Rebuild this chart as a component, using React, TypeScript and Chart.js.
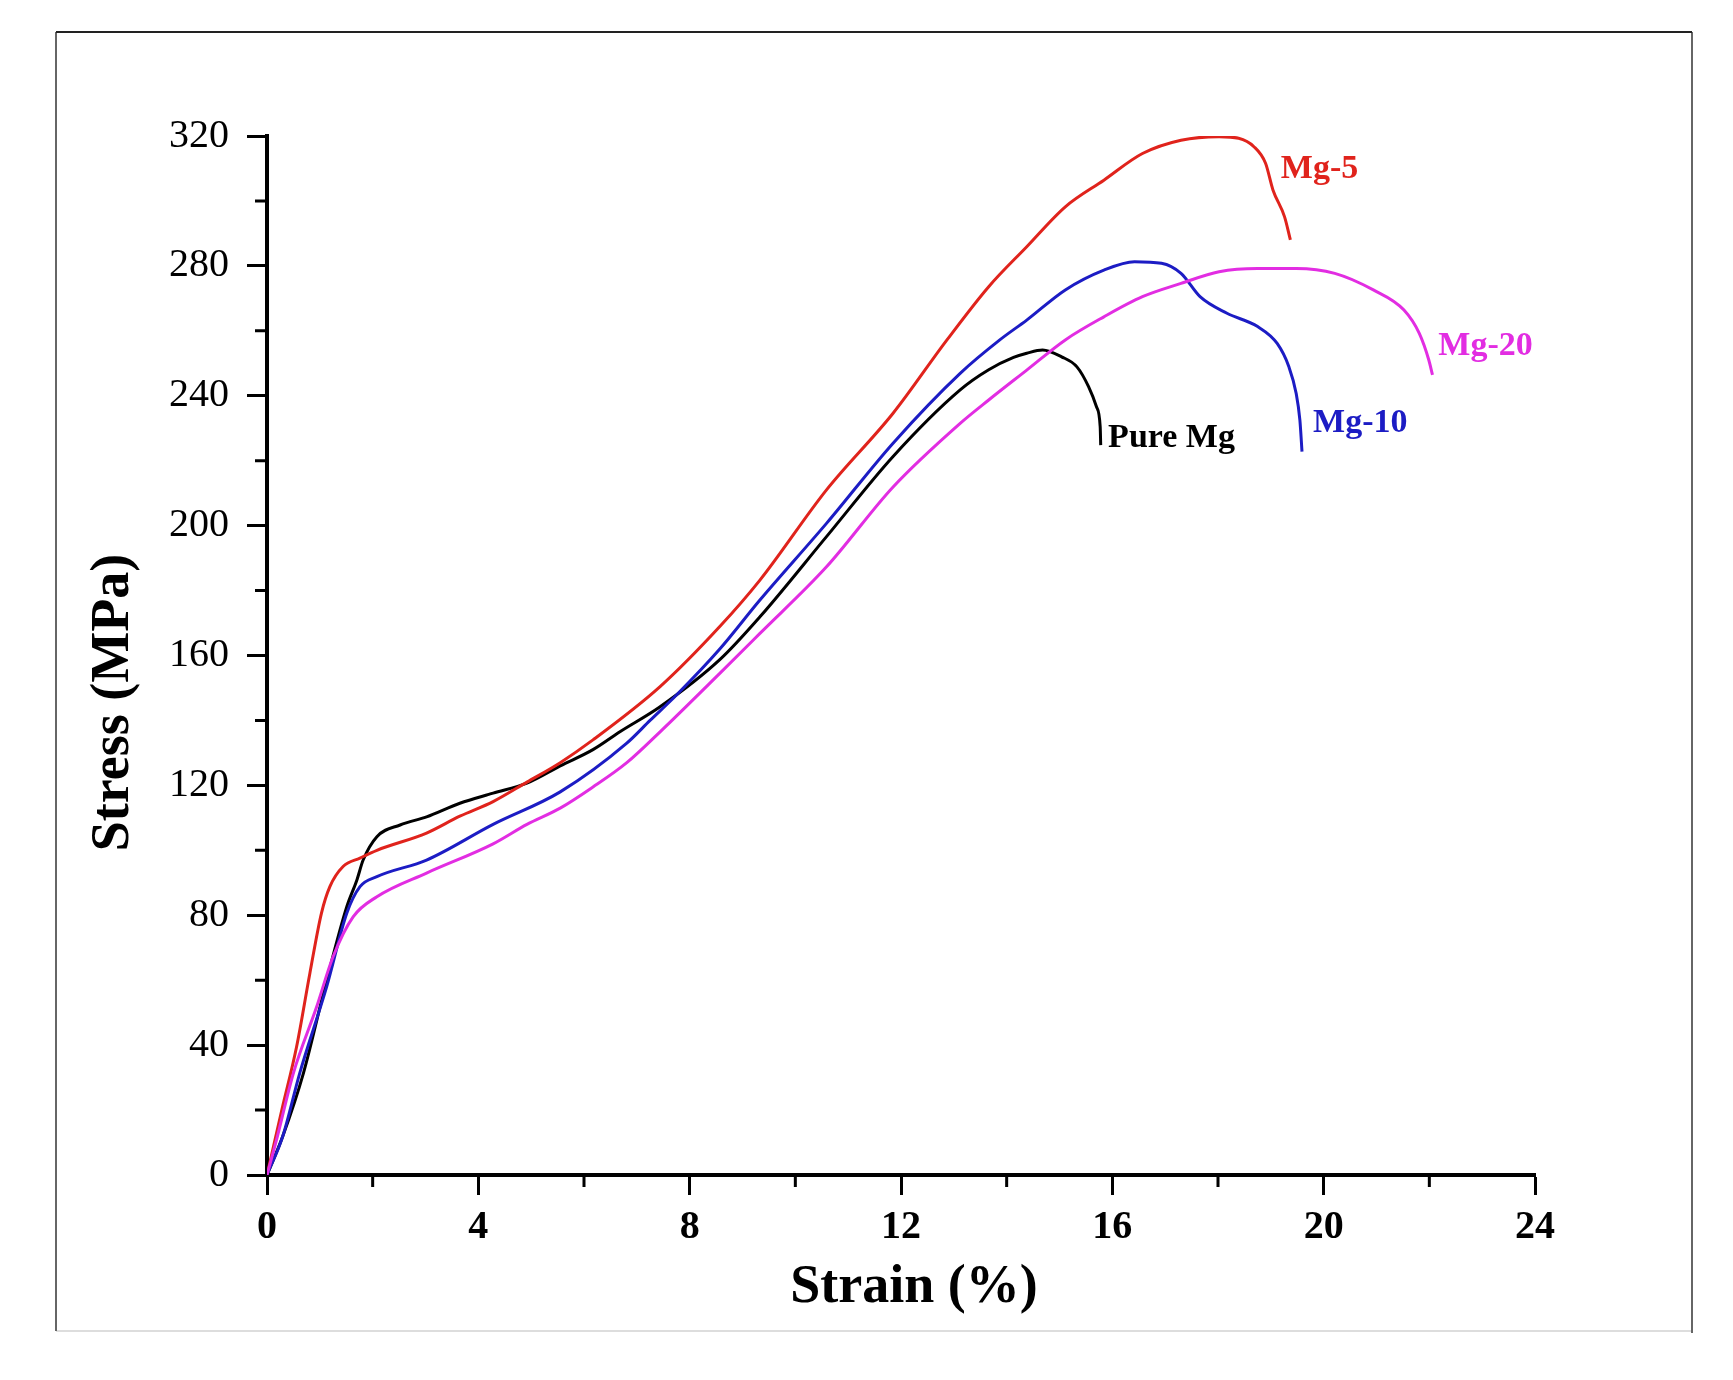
import { useEffect, useRef } from "react"
import { Chart, registerables } from "chart.js"

Chart.register(...registerables)

// Stress-strain curves, strain in %, stress in MPa
const pureMgStrain = [0, 0.3, 0.69, 1.13, 1.51, 1.7, 1.82, 2.08, 2.52, 3.02, 3.65, 4.28, 4.92, 5.55, 6.17, 6.68, 7.44, 8.57, 9.33, 10.59, 11.85, 13.12, 13.66, 14.13, 14.38, 14.68, 15.04, 15.33, 15.55, 15.7, 15.77, 15.78]
const pureMgStress = [0, 12, 31.4, 60, 82.6, 90.8, 97, 104.2, 107.8, 110.3, 114.5, 117.6, 120.7, 126, 131, 136.5, 144.2, 158.7, 171.9, 196.6, 221.3, 241.8, 248, 251.8, 253.1, 254.1, 252, 248.9, 242.8, 236.6, 230.5, 224.8]

const mg5Strain = [0, 0.28, 0.56, 0.81, 1.03, 1.19, 1.44, 1.76, 2.08, 3.02, 3.65, 4.28, 4.92, 5.55, 6.17, 7.44, 8.57, 9.33, 10.59, 11.85, 12.87, 13.66, 14.38, 15.11, 15.84, 16.57, 17.3, 18.02, 18.39, 18.68, 18.9, 19.04, 19.26, 19.37]
const mg5Stress = [0, 20, 39.5, 62, 80.6, 88.8, 95, 97.6, 100, 105.3, 110.5, 115, 121, 127, 134, 150.4, 168.9, 183.2, 211, 234.6, 257.2, 273.6, 285.9, 298.2, 306.4, 314.6, 318.7, 319.8, 319.3, 316.7, 311.6, 303.4, 295.1, 288]

const mg10Strain = [0, 0.3, 0.62, 1.13, 1.51, 1.76, 2.08, 3.02, 4.28, 5.55, 6.81, 7.25, 7.76, 8.57, 9.33, 10.59, 11.85, 13.12, 13.87, 14.38, 15.11, 15.84, 16.42, 16.93, 17.3, 17.66, 18.17, 18.75, 19.12, 19.34, 19.48, 19.55, 19.59]
const mg10Stress = [0, 12, 31.4, 58, 80.6, 88.8, 91.9, 97, 108, 118, 133, 140, 148, 162, 177.1, 200.7, 225.4, 246.9, 257.2, 263.3, 272.6, 278.7, 281.3, 280.8, 277.7, 270.5, 265.4, 261.3, 256.1, 249, 240.7, 232.5, 222.8]

const mg20Strain = [0, 0.18, 0.5, 0.94, 1.25, 1.63, 2.08, 3.02, 4.28, 4.92, 5.55, 6.17, 6.81, 7.44, 8.57, 9.33, 10.59, 11.85, 13.12, 13.66, 14.38, 15.11, 15.84, 16.57, 17.3, 18.02, 18.75, 19.48, 20.21, 20.94, 21.52, 21.81, 21.99, 22.06]
const mg20Stress = [0, 10.8, 31.4, 51.8, 67.2, 79.5, 85.7, 93, 102, 108, 113, 119.5, 127, 136.5, 154.5, 166.8, 187.3, 211.9, 231.5, 238.7, 247.9, 257.2, 264.3, 270.5, 274.6, 278.2, 279.2, 279.2, 277.7, 272.6, 266.4, 259.2, 251, 246.4]

const xTicks = [0, 4, 8, 12, 16, 20, 24]
const xMinorTicks = [2, 6, 10, 14, 18, 22]
const yTicks = [0, 40, 80, 120, 160, 200, 240, 280, 320]
const yMinorTicks = [20, 60, 100, 140, 180, 220, 260, 300]

const RED = "#e0231c"
const BLUE = "#1c1cc4"
const MAGENTA = "#e22de2"
const BLACK = "#000000"

// curve labels, placed in data units (left edge, baseline)
const curveLabels = [
  { text: "Mg-5", x: 19.19, y: 307, color: RED },
  { text: "Mg-20", x: 22.17, y: 252.5, color: MAGENTA },
  { text: "Mg-10", x: 19.8, y: 228.8, color: BLUE },
  { text: "Pure Mg", x: 15.92, y: 224.2, color: BLACK },
]

const SERIF = '"Liberation Serif", "Times New Roman", serif'

const toPoints = (xs: number[], ys: number[]) => xs.map((x, i) => ({ x, y: ys[i] }))

const decorations = {
  id: "decorations",
  beforeDraw(chart: any) {
    const { ctx, width, height } = chart
    ctx.save()
    ctx.fillStyle = "#ffffff"
    ctx.fillRect(0, 0, width, height)
    ctx.lineWidth = 2
    ctx.strokeStyle = "#dddddd"
    ctx.beginPath()
    ctx.moveTo(56, 1331)
    ctx.lineTo(1692, 1331)
    ctx.stroke()
    ctx.strokeStyle = "#666666"
    ctx.beginPath()
    ctx.moveTo(56, 1331)
    ctx.lineTo(56, 32)
    ctx.moveTo(1692, 32)
    ctx.lineTo(1692, 1333)
    ctx.stroke()
    ctx.strokeStyle = "#222222"
    ctx.beginPath()
    ctx.moveTo(56, 32)
    ctx.lineTo(1692, 32)
    ctx.stroke()
    ctx.restore()
  },
  afterDraw(chart: any) {
    const { ctx, chartArea, scales } = chart
    const x = scales.x
    const y = scales.y
    ctx.save()

    // minor ticks
    ctx.strokeStyle = "#000"
    ctx.lineWidth = 3
    ctx.beginPath()
    xMinorTicks.forEach((v) => {
      const px = x.getPixelForValue(v)
      ctx.moveTo(px, chartArea.bottom)
      ctx.lineTo(px, chartArea.bottom + 12)
    })
    yMinorTicks.forEach((v) => {
      const py = y.getPixelForValue(v)
      ctx.moveTo(chartArea.left - 12, py)
      ctx.lineTo(chartArea.left, py)
    })
    ctx.stroke()

    // axis titles
    ctx.fillStyle = "#000"
    ctx.font = `bold 54px ${SERIF}`
    ctx.textAlign = "center"
    ctx.textBaseline = "alphabetic"
    ctx.fillText("Strain (%)", (chartArea.left + chartArea.right) / 2 + 13, chartArea.bottom + 127)

    ctx.save()
    ctx.translate(chartArea.left - 139, (chartArea.top + chartArea.bottom) / 2 + 47)
    ctx.rotate(-Math.PI / 2)
    ctx.fillText("Stress (MPa)", 0, 0)
    ctx.restore()

    // curve labels
    ctx.font = `bold 34px ${SERIF}`
    ctx.textAlign = "left"
    curveLabels.forEach((l) => {
      ctx.fillStyle = l.color
      ctx.fillText(l.text, x.getPixelForValue(l.x), y.getPixelForValue(l.y))
    })
    ctx.restore()
  },
}

export default function App() {
  const chartRef = useRef<HTMLCanvasElement>(null)
  const chartInstance = useRef<Chart | null>(null)

  useEffect(() => {
    document.body.style.margin = "0"
    if (!chartRef.current) return
    if (chartInstance.current) chartInstance.current.destroy()

    const line = (label: string, xs: number[], ys: number[], color: string) => ({
      label,
      data: toPoints(xs, ys),
      borderColor: color,
      backgroundColor: color,
      borderWidth: 3,
      pointRadius: 0,
      fill: false,
      cubicInterpolationMode: "monotone" as const,
    })

    chartInstance.current = new Chart(chartRef.current, {
      type: "line",
      data: {
        datasets: [
          line("Mg-20", mg20Strain, mg20Stress, MAGENTA),
          line("Mg-10", mg10Strain, mg10Stress, BLUE),
          line("Mg-5", mg5Strain, mg5Stress, RED),
          line("Pure Mg", pureMgStrain, pureMgStress, BLACK),
        ],
      },
      options: {
        responsive: false,
        animation: false,
        devicePixelRatio: 1,
        layout: { padding: { left: 0, right: 198, top: 136, bottom: 0 } },
        scales: {
          x: {
            type: "linear",
            min: 0,
            max: 24,
            afterBuildTicks: (scale: any) => {
              scale.ticks = xTicks.map((value) => ({ value }))
            },
            afterFit: (scale: any) => {
              scale.height = 205
            },
            ticks: {
              color: "#000",
              padding: 9,
              font: { family: SERIF, size: 40, weight: "bold" },
            },
            grid: {
              drawOnChartArea: false,
              drawTicks: true,
              tickLength: 20,
              tickWidth: 3,
              tickColor: "#000",
            },
            border: { color: "#000", width: 4 },
          },
          y: {
            type: "linear",
            min: 0,
            max: 320,
            afterBuildTicks: (scale: any) => {
              scale.ticks = yTicks.map((value) => ({ value }))
            },
            afterFit: (scale: any) => {
              scale.width = 267
            },
            ticks: {
              color: "#000",
              padding: 18,
              font: { family: SERIF, size: 40 },
            },
            grid: {
              drawOnChartArea: false,
              drawTicks: true,
              tickLength: 20,
              tickWidth: 3,
              tickColor: "#000",
            },
            border: { color: "#000", width: 4 },
          },
        },
        plugins: {
          legend: { display: false },
          tooltip: { enabled: false },
        },
      },
      plugins: [decorations],
    })

    return () => {
      if (chartInstance.current) {
        chartInstance.current.destroy()
        chartInstance.current = null
      }
    }
  }, [])

  return (
    <div style={{ width: 1733, height: 1380 }}>
      <canvas ref={chartRef} width={1733} height={1380} />
    </div>
  )
}
